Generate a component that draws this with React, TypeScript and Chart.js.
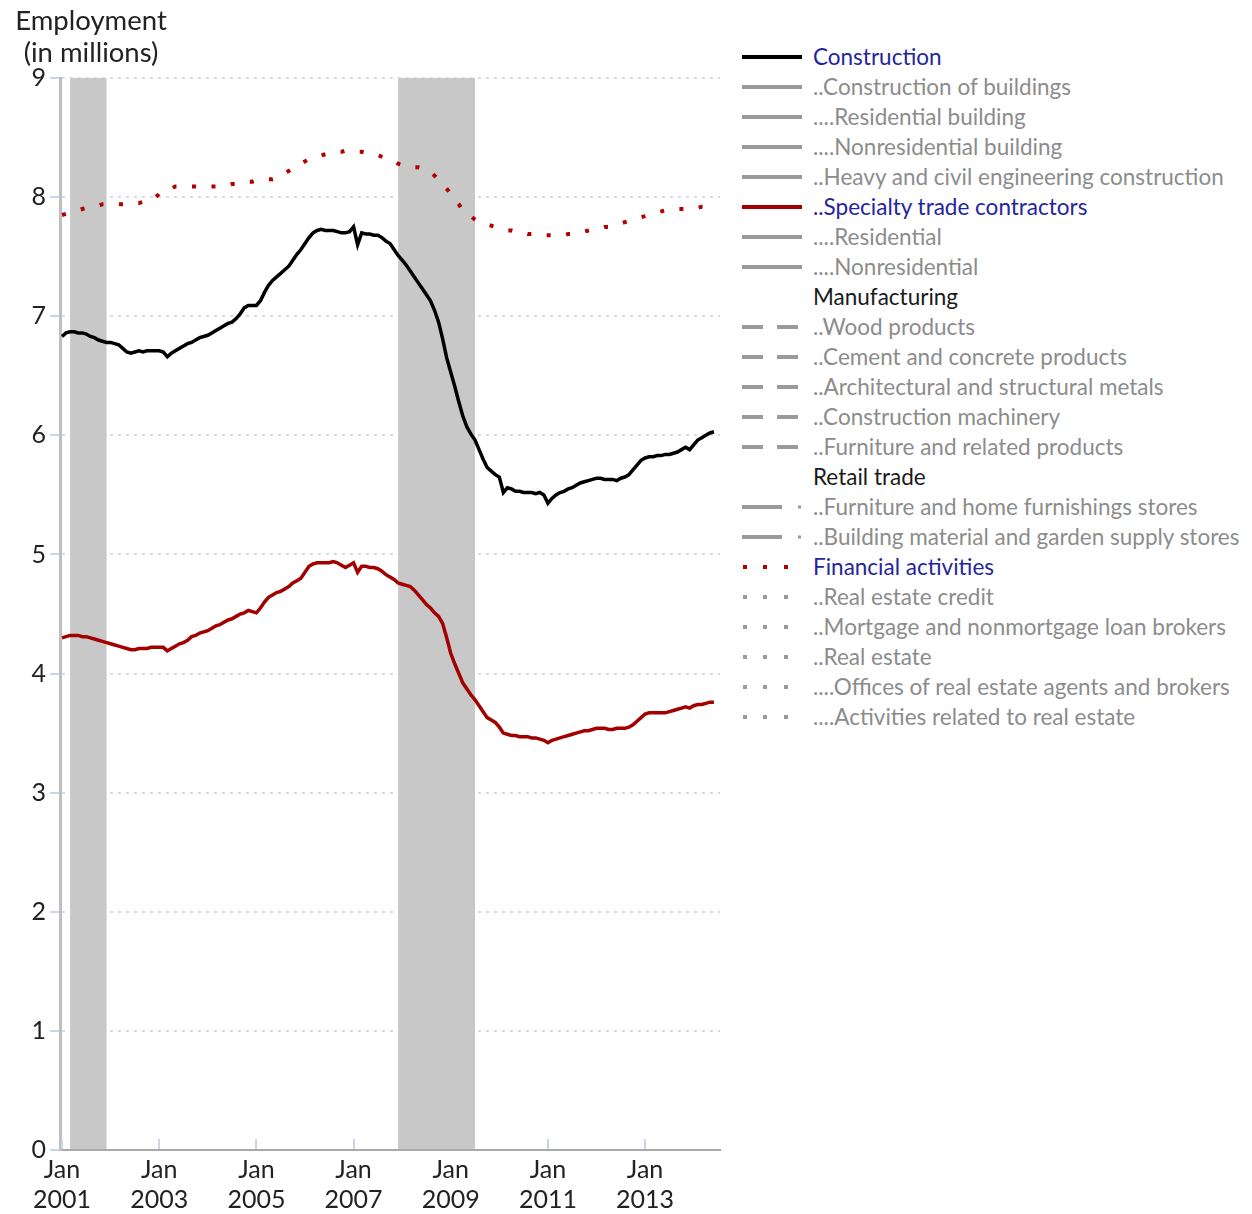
import React, { useEffect, useRef } from "react";
import { Chart, registerables } from "chart.js";

Chart.register(...registerables);

// ---------- DATA ----------
const firstYear = 2001; // monthly series start in Jan 2001

// Construction employment (millions), monthly Jan 2001 - Jun 2014
const construction = [
  6.83, 6.86, 6.87, 6.87, 6.86, 6.86, 6.85, 6.83, 6.82, 6.80, 6.79, 6.78,
  6.78, 6.77, 6.76, 6.73, 6.70, 6.69, 6.70, 6.71, 6.70, 6.71, 6.71, 6.71,
  6.71, 6.70, 6.66, 6.69, 6.71, 6.73, 6.75, 6.77, 6.78, 6.80, 6.82, 6.83,
  6.84, 6.86, 6.88, 6.90, 6.92, 6.94, 6.95, 6.98, 7.02, 7.07, 7.09, 7.09,
  7.09, 7.13, 7.20, 7.26, 7.30, 7.33, 7.36, 7.39, 7.42, 7.47, 7.52, 7.56,
  7.61, 7.66, 7.70, 7.72, 7.73, 7.72, 7.72, 7.72, 7.71, 7.70, 7.70, 7.71,
  7.75, 7.60, 7.70, 7.69, 7.69, 7.68, 7.68, 7.66, 7.63, 7.61, 7.56, 7.51,
  7.47, 7.43, 7.38, 7.33, 7.28, 7.23, 7.18, 7.13, 7.05, 6.95, 6.81, 6.65,
  6.53, 6.41, 6.28, 6.16, 6.07, 6.01, 5.96, 5.88, 5.80, 5.73, 5.70, 5.67,
  5.65, 5.52, 5.56, 5.55, 5.53, 5.53, 5.52, 5.52, 5.52, 5.51, 5.52, 5.50,
  5.43, 5.47, 5.50, 5.52, 5.53, 5.55, 5.56, 5.58, 5.60, 5.61, 5.62, 5.63,
  5.64, 5.64, 5.63, 5.63, 5.63, 5.62, 5.64, 5.65, 5.67, 5.71, 5.75, 5.79,
  5.81, 5.82, 5.82, 5.83, 5.83, 5.84, 5.84, 5.85, 5.86, 5.88, 5.90, 5.88,
  5.92, 5.96, 5.98, 6.00, 6.02, 6.03,
];

// ..Specialty trade contractors (millions)
const specialtyTrade = [
  4.30, 4.31, 4.32, 4.32, 4.32, 4.31, 4.31, 4.30, 4.29, 4.28, 4.27, 4.26,
  4.25, 4.24, 4.23, 4.22, 4.21, 4.20, 4.20, 4.21, 4.21, 4.21, 4.22, 4.22,
  4.22, 4.22, 4.19, 4.21, 4.23, 4.25, 4.26, 4.28, 4.31, 4.32, 4.34, 4.35,
  4.36, 4.38, 4.40, 4.41, 4.43, 4.45, 4.46, 4.48, 4.50, 4.51, 4.53, 4.52,
  4.51, 4.55, 4.60, 4.64, 4.66, 4.68, 4.69, 4.71, 4.73, 4.76, 4.78, 4.80,
  4.85, 4.90, 4.92, 4.93, 4.93, 4.93, 4.93, 4.94, 4.93, 4.91, 4.89, 4.91,
  4.93, 4.85, 4.90, 4.90, 4.89, 4.89, 4.88, 4.86, 4.83, 4.81, 4.79, 4.76,
  4.75, 4.74, 4.73, 4.70, 4.66, 4.62, 4.58, 4.55, 4.51, 4.48, 4.42, 4.30,
  4.17, 4.08, 4.00, 3.92, 3.87, 3.82, 3.78, 3.73, 3.68, 3.63, 3.61, 3.59,
  3.55, 3.50, 3.49, 3.48, 3.48, 3.47, 3.47, 3.47, 3.46, 3.46, 3.45, 3.44,
  3.42, 3.44, 3.45, 3.46, 3.47, 3.48, 3.49, 3.50, 3.51, 3.52, 3.52, 3.53,
  3.54, 3.54, 3.54, 3.53, 3.53, 3.54, 3.54, 3.54, 3.55, 3.57, 3.60, 3.63,
  3.66, 3.67, 3.67, 3.67, 3.67, 3.67, 3.68, 3.69, 3.70, 3.71, 3.72, 3.71,
  3.73, 3.74, 3.74, 3.75, 3.76, 3.76,
];

// Financial activities (millions)
const financialActivities = [
  7.85, 7.86, 7.87, 7.88, 7.89, 7.90, 7.91, 7.92, 7.92, 7.93, 7.94, 7.94,
  7.94, 7.94, 7.94, 7.94, 7.94, 7.94, 7.95, 7.95, 7.96, 7.96, 7.97, 7.99,
  8.03, 8.04, 8.06, 8.07, 8.09, 8.09, 8.09, 8.09, 8.09, 8.09, 8.09, 8.09,
  8.09, 8.09, 8.09, 8.10, 8.10, 8.10, 8.11, 8.11, 8.12, 8.12, 8.13, 8.13,
  8.14, 8.14, 8.15, 8.15, 8.15, 8.16, 8.18, 8.20, 8.22, 8.24, 8.26, 8.28,
  8.30, 8.32, 8.33, 8.34, 8.35, 8.36, 8.37, 8.37, 8.38, 8.38, 8.39, 8.39,
  8.39, 8.38, 8.38, 8.37, 8.37, 8.36, 8.35, 8.34, 8.33, 8.31, 8.30, 8.28,
  8.27, 8.26, 8.26, 8.25, 8.25, 8.24, 8.23, 8.21, 8.18, 8.15, 8.11, 8.07,
  8.03, 7.98, 7.94, 7.89, 7.86, 7.84, 7.81, 7.79, 7.78, 7.77, 7.76, 7.75,
  7.74, 7.73, 7.72, 7.72, 7.71, 7.70, 7.70, 7.69, 7.69, 7.68, 7.68, 7.68,
  7.68, 7.68, 7.68, 7.68, 7.68, 7.69, 7.69, 7.70, 7.70, 7.71, 7.72, 7.73,
  7.73, 7.74, 7.75, 7.75, 7.76, 7.77, 7.78, 7.79, 7.80, 7.81, 7.82, 7.83,
  7.84, 7.85, 7.86, 7.87, 7.88, 7.89, 7.90, 7.90, 7.90, 7.90, 7.90, 7.91,
  7.91, 7.91, 7.92, 7.92, 7.92, 7.92,
];

// Recessions (start month, end month), "YYYY-MM"
const recessions = [
  ["2001-03", "2001-11"],
  ["2007-12", "2009-06"],
];

const xTickYears = [2001, 2003, 2005, 2007, 2009, 2011, 2013];
const xTickLabels = xTickYears.map((y) => ["Jan", String(y)]);
const yTicks = [0, 1, 2, 3, 4, 5, 6, 7, 8, 9];

const axisTitle = ["Employment", "(in millions)"];

type Sample = "solid" | "dash" | "dashdot" | "dots" | "none";
type LegendItem = { label: string; sample: Sample; color: string; text: "blue" | "gray" | "black" };

const legendItems: LegendItem[] = [
  { label: "Construction", sample: "solid", color: "#000000", text: "blue" },
  { label: "..Construction of buildings", sample: "solid", color: "#9a9a9a", text: "gray" },
  { label: "....Residential building", sample: "solid", color: "#9a9a9a", text: "gray" },
  { label: "....Nonresidential building", sample: "solid", color: "#9a9a9a", text: "gray" },
  { label: "..Heavy and civil engineering construction", sample: "solid", color: "#9a9a9a", text: "gray" },
  { label: "..Specialty trade contractors", sample: "solid", color: "#a30000", text: "blue" },
  { label: "....Residential", sample: "solid", color: "#9a9a9a", text: "gray" },
  { label: "....Nonresidential", sample: "solid", color: "#9a9a9a", text: "gray" },
  { label: "Manufacturing", sample: "none", color: "#9a9a9a", text: "black" },
  { label: "..Wood products", sample: "dash", color: "#9a9a9a", text: "gray" },
  { label: "..Cement and concrete products", sample: "dash", color: "#9a9a9a", text: "gray" },
  { label: "..Architectural and structural metals", sample: "dash", color: "#9a9a9a", text: "gray" },
  { label: "..Construction machinery", sample: "dash", color: "#9a9a9a", text: "gray" },
  { label: "..Furniture and related products", sample: "dash", color: "#9a9a9a", text: "gray" },
  { label: "Retail trade", sample: "none", color: "#9a9a9a", text: "black" },
  { label: "..Furniture and home furnishings stores", sample: "dashdot", color: "#9a9a9a", text: "gray" },
  { label: "..Building material and garden supply stores", sample: "dashdot", color: "#9a9a9a", text: "gray" },
  { label: "Financial activities", sample: "dots", color: "#b00000", text: "blue" },
  { label: "..Real estate credit", sample: "dots", color: "#9a9a9a", text: "gray" },
  { label: "..Mortgage and nonmortgage loan brokers", sample: "dots", color: "#9a9a9a", text: "gray" },
  { label: "..Real estate", sample: "dots", color: "#9a9a9a", text: "gray" },
  { label: "....Offices of real estate agents and brokers", sample: "dots", color: "#9a9a9a", text: "gray" },
  { label: "....Activities related to real estate", sample: "dots", color: "#9a9a9a", text: "gray" },
];

// ---------- HELPERS ----------
const monthIndex = (ym: string) => {
  const [y, m] = ym.split("-").map(Number);
  return (y - firstYear) * 12 + (m - 1);
};
const toPoints = (arr: number[]) => arr.map((v, i) => ({ x: i, y: v }));

const FONT = "Lato, 'Open Sans', sans-serif";
const textColors = { blue: "#25259c", gray: "#8c8c8c", black: "#1a1a1a" };

function SampleSvg({ sample, color }: { sample: Sample; color: string }) {
  const w = 64;
  const h = 30;
  const c = h / 2;
  let body: React.ReactNode = null;
  if (sample === "solid") {
    body = <rect x={1} y={c - 2} width={60} height={4} fill={color} />;
  } else if (sample === "dash") {
    body = (
      <g fill={color}>
        <rect x={1} y={c - 2} width={21} height={4} />
        <rect x={36} y={c - 2} width={21} height={4} />
      </g>
    );
  } else if (sample === "dashdot") {
    body = (
      <g fill={color}>
        <rect x={1} y={c - 2} width={40} height={4} />
        <rect x={57} y={c - 1.5} width={3} height={3} />
      </g>
    );
  } else if (sample === "dots") {
    body = (
      <g fill={color}>
        <rect x={2} y={c - 2} width={4} height={4} />
        <rect x={22} y={c - 2} width={4} height={4} />
        <rect x={43} y={c - 2} width={4} height={4} />
      </g>
    );
  }
  return (
    <svg width={w} height={h} style={{ display: "block" }}>
      {body}
    </svg>
  );
}

export default function App() {
  const canvasRef = useRef<HTMLCanvasElement | null>(null);

  useEffect(() => {
    const canvas = canvasRef.current;
    if (!canvas) return;

    const overlay = {
      id: "recessionBands",
      beforeDatasetsDraw(chart: any) {
        const { ctx, chartArea, scales } = chart;
        const x = scales.x;
        ctx.save();
        // small tick marks inside the plot above the x axis
        ctx.strokeStyle = "#c7d6ea";
        ctx.lineWidth = 2;
        xTickYears.forEach((yr) => {
          const px = Math.round(x.getPixelForValue((yr - firstYear) * 12));
          ctx.beginPath();
          ctx.moveTo(px, chartArea.bottom - 1);
          ctx.lineTo(px, chartArea.bottom - 11);
          ctx.stroke();
        });
        // recession shading (through the end of the final month)
        ctx.fillStyle = "#c8c8c8";
        recessions.forEach(([s, e]) => {
          const x0 = x.getPixelForValue(monthIndex(s));
          const x1 = x.getPixelForValue(monthIndex(e) + 1);
          ctx.fillRect(x0, chartArea.top, x1 - x0, chartArea.bottom - chartArea.top - 1);
        });
        ctx.restore();
      },
    };

    const chart = new Chart(canvas, {
      type: "line",
      data: {
        datasets: [
          {
            label: "Financial activities",
            data: toPoints(financialActivities),
            borderColor: "#b00000",
            borderWidth: 4,
            borderDash: [4, 15.5],
            pointRadius: 0,
            tension: 0,
          },
          {
            label: "..Specialty trade contractors",
            data: toPoints(specialtyTrade),
            borderColor: "#a30000",
            borderWidth: 3.5,
            pointRadius: 0,
            tension: 0,
          },
          {
            label: "Construction",
            data: toPoints(construction),
            borderColor: "#000000",
            borderWidth: 3.5,
            pointRadius: 0,
            tension: 0,
          },
        ],
      },
      options: {
        animation: false,
        responsive: false,
        maintainAspectRatio: false,
        layout: { padding: { top: 78, right: 10, left: 0, bottom: 0 } },
        plugins: { legend: { display: false }, tooltip: { enabled: false }, title: { display: false } },
        scales: {
          x: {
            type: "linear",
            min: -0.5,
            max: 162.5,
            afterFit: (s: any) => {
              s.height = 64;
            },
            afterBuildTicks: (s: any) => {
              s.ticks = xTickYears.map((yr) => ({ value: (yr - firstYear) * 12 }));
            },
            ticks: {
              autoSkip: false,
              maxRotation: 0,
              padding: 5,
              color: "#222222",
              font: { family: FONT, size: 25, lineHeight: 1.2 },
              callback: (_v: any, i: number) => xTickLabels[i],
            },
            grid: { display: false, drawTicks: false, drawOnChartArea: false },
            border: { display: true, color: "#a9a9a9", width: 2 },
          },
          y: {
            min: 0,
            max: 9,
            afterFit: (s: any) => {
              s.width = 60;
            },
            afterBuildTicks: (s: any) => {
              s.ticks = yTicks.map((v) => ({ value: v }));
            },
            ticks: {
              padding: 4,
              color: "#222222",
              font: { family: FONT, size: 25 },
            },
            grid: {
              color: "#d9dde3",
              lineWidth: 2,
              drawTicks: true,
              tickLength: 10,
              tickColor: "#c7d6ea",
              tickWidth: 2,
              tickBorderDash: [],
            },
            border: { display: true, color: "#bfbfbf", width: 3, dash: [3, 5] },
          },
        },
      },
      plugins: [overlay],
    });

    return () => chart.destroy();
  }, []);

  return (
    <div
      style={{
        position: "absolute",
        left: 0,
        top: 0,
        width: 1252,
        height: 1214,
        overflow: "hidden",
        background: "#ffffff",
        fontFamily: FONT,
      }}
    >
      <canvas ref={canvasRef} width={730} height={1214} style={{ position: "absolute", left: 0, top: 0 }} />
      <div
        style={{
          position: "absolute",
          left: 6,
          top: 4,
          width: 170,
          textAlign: "center",
          fontSize: 27.5,
          lineHeight: "32px",
          color: "#222222",
        }}
      >
        {axisTitle.map((t) => (
          <div key={t}>{t}</div>
        ))}
      </div>
      {legendItems.map((it, i) => (
        <div
          key={it.label}
          style={{
            position: "absolute",
            left: 741,
            top: 42 + i * 30,
            height: 30,
            display: "flex",
            alignItems: "center",
            whiteSpace: "nowrap",
          }}
        >
          <SampleSvg sample={it.sample} color={it.color} />
          <span
            style={{
              marginLeft: 8,
              fontSize: 22.5,
              lineHeight: "30px",
              color: textColors[it.text],
            }}
          >
            {it.label}
          </span>
        </div>
      ))}
    </div>
  );
}
